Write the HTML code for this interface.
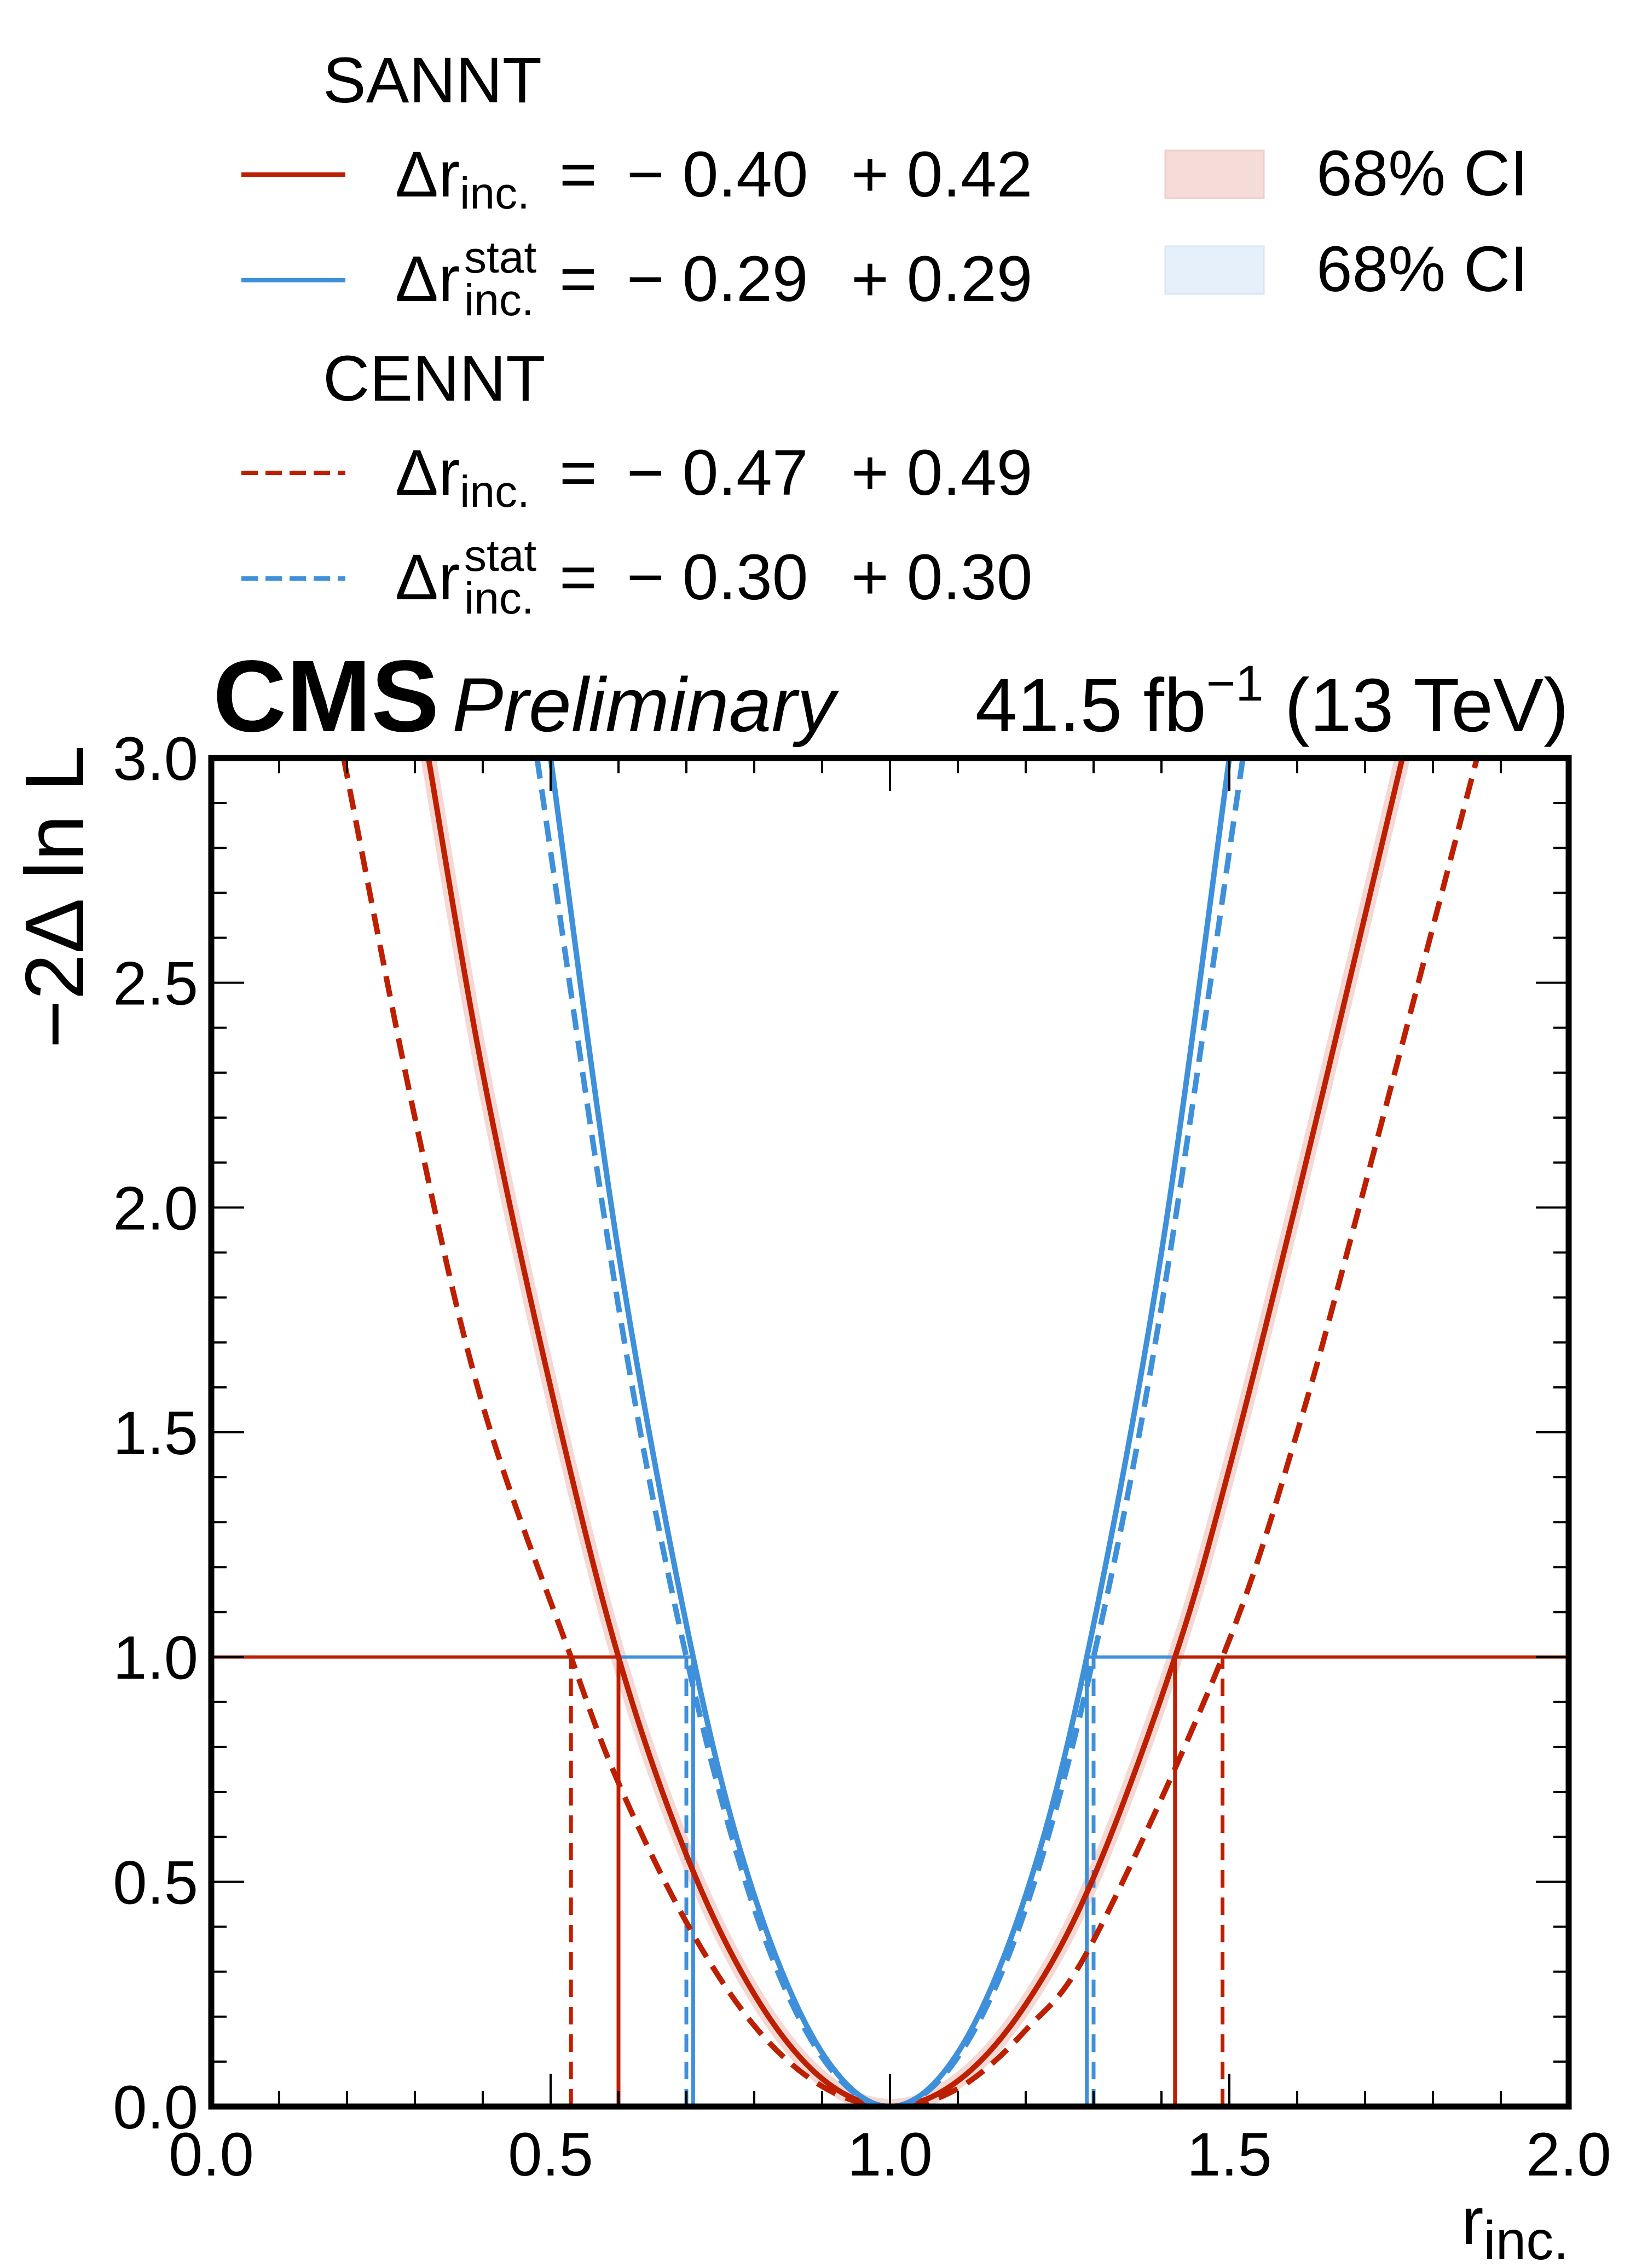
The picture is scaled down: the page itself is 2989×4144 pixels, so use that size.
<!DOCTYPE html>
<html><head><meta charset="utf-8">
<style>
html,body{margin:0;padding:0;background:#fff;}
svg{display:block;font-family:"Liberation Sans",Arial,sans-serif;}
</style></head>
<body>
<svg id="chart" width="2989" height="4144" viewBox="0 0 2989 4144" xmlns="http://www.w3.org/2000/svg">
<g id="legend" font-size="118" fill="#000">
  <text x="590" y="187">SANNT</text>
  <line x1="441" y1="319" x2="631" y2="319" stroke="#bd1f01" stroke-width="8"/>
  <text x="722" y="359">Δr<tspan font-size="82" dy="22">inc.</tspan><tspan x="1022" dy="-22">=</tspan><tspan x="1145">− 0.40</tspan><tspan x="1555">+ 0.42</tspan></text>
  <line x1="441" y1="512" x2="631" y2="512" stroke="#3f90da" stroke-width="8"/>
  <text x="722" y="550">Δr<tspan font-size="82" x="848" dy="-52">stat</tspan><tspan font-size="82" x="848" dy="78">inc.</tspan><tspan x="1022" dy="-26">=</tspan><tspan x="1145">− 0.29</tspan><tspan x="1555">+ 0.29</tspan></text>
  <text x="590" y="732">CENNT</text>
  <line x1="441" y1="864" x2="631" y2="864" stroke="#bd1f01" stroke-width="8" stroke-dasharray="30,14"/>
  <text x="722" y="904">Δr<tspan font-size="82" dy="22">inc.</tspan><tspan x="1022" dy="-22">=</tspan><tspan x="1145">− 0.47</tspan><tspan x="1555">+ 0.49</tspan></text>
  <line x1="441" y1="1057" x2="631" y2="1057" stroke="#3f90da" stroke-width="8" stroke-dasharray="30,14"/>
  <text x="722" y="1095">Δr<tspan font-size="82" x="848" dy="-52">stat</tspan><tspan font-size="82" x="848" dy="78">inc.</tspan><tspan x="1022" dy="-26">=</tspan><tspan x="1145">− 0.30</tspan><tspan x="1555">+ 0.30</tspan></text>
  <rect x="2129" y="275" width="180" height="87" fill="#f5dcd8" stroke="#f0ccc6" stroke-width="3"/>
  <text x="2405" y="357">68% CI</text>
  <rect x="2129" y="450" width="180" height="87" fill="#e6f0fa" stroke="#d6e6f6" stroke-width="3"/>
  <text x="2405" y="532">68% CI</text>
</g>
<text x="389" y="1336" font-size="186" font-weight="bold">CMS</text>
<text x="826" y="1336" font-size="140" font-style="italic">Preliminary</text>
<text x="2866" y="1336" font-size="138" text-anchor="end">41.5 fb<tspan font-size="92" dy="-56">−1</tspan><tspan dy="56"> (13 TeV)</tspan></text>
<g id="plot"></g>
<text transform="translate(152,1362) rotate(-90)" font-size="152" text-anchor="end">−2Δ ln L</text>
<text x="2866" y="4100" font-size="122" text-anchor="end">r<tspan font-size="100" dy="28">inc.</tspan></text>
</svg>
<script>
// ---- data ----
const sanntTotalR = [0.32,0.40,0.50,0.60,0.70,0.80,0.90,1.00,1.10,1.20,1.30,1.42,1.50,1.60,1.70,1.755];
const sanntTotalY = [3.0,2.3,1.6,1.0,0.56,0.25,0.062,0.0,0.057,0.227,0.51,1.0,1.42,2.02,2.65,3.0];
const sanntStatR = [0.50,0.60,0.71,0.80,0.90,1.00,1.10,1.20,1.29,1.40,1.50];
const sanntStatY = [3.0,1.9,1.0,0.47,0.12,0.0,0.12,0.47,1.0,1.9,3.0];
const cenntTotalR = [0.195,0.30,0.40,0.53,0.60,0.70,0.80,0.90,1.00,1.10,1.20,1.30,1.49,1.60,1.70,1.865];
const cenntTotalY = [3.0,2.2,1.56,1.0,0.72,0.41,0.18,0.045,0.0,0.04,0.17,0.37,1.0,1.5,2.05,3.0];
const cenntStatR = [0.48,0.60,0.70,0.80,0.90,1.00,1.10,1.20,1.30,1.40,1.52];
const cenntStatY = [3.0,1.78,1.0,0.44,0.11,0.0,0.11,0.44,1.0,1.78,3.0];
const intervalsR = [0.60,1.42,0.53,1.49,0.71,1.29,0.70,1.30];
const xTickLabels = ["0.0","0.5","1.0","1.5","2.0"];
const yTickLabels = ["0.0","0.5","1.0","1.5","2.0","2.5","3.0"];

const X0=386,X1=2866,Y0=3849,Y1=1385;
const sx=v=>X0+(X1-X0)*v/2.0;
const sy=v=>Y0-(Y0-Y1)*v/3.0;
const NS="http://www.w3.org/2000/svg";
const plot=document.getElementById('plot');
function mk(tag,attrs,parent){const e=document.createElementNS(NS,tag);for(const k in attrs)e.setAttribute(k,attrs[k]);(parent||plot).appendChild(e);return e;}

const clip=mk('clipPath',{id:'pc'});
mk('rect',{x:X0,y:Y1,width:X1-X0,height:Y0-Y1},clip);

function smoothPath(rs,ys){
  const p=rs.map((r,i)=>[sx(r),sy(ys[i])]);
  let d='M'+p[0][0]+','+p[0][1];
  for(let i=0;i<p.length-1;i++){
    const a=p[Math.max(i-1,0)],b=p[i],c=p[i+1],e=p[Math.min(i+2,p.length-1)];
    const c1=[b[0]+(c[0]-a[0])/6,b[1]+(c[1]-a[1])/6];
    const c2=[c[0]-(e[0]-b[0])/6,c[1]-(e[1]-b[1])/6];
    d+=' C'+c1+' '+c2+' '+c;
  }
  return d;
}
const g=mk('g',{'clip-path':'url(#pc)'});



const band=mk('path',{d:smoothPath(sanntTotalR,sanntTotalY),fill:'none',stroke:'#f5d8d3',"stroke-width":28},g);



const hl1=mk('line',{x1:sx(0),x2:sx(intervalsR[0]),y1:sy(1),y2:sy(1),stroke:'#bd1f01','stroke-width':6},g);


const hl2=mk('line',{x1:sx(intervalsR[1]),x2:sx(2),y1:sy(1),y2:sy(1),stroke:'#bd1f01','stroke-width':6},g);


const hb1=mk('line',{x1:sx(intervalsR[0]),x2:sx(intervalsR[4]),y1:sy(1),y2:sy(1),stroke:'#3f90da','stroke-width':6},g);


const hb2=mk('line',{x1:sx(intervalsR[5]),x2:sx(intervalsR[1]),y1:sy(1),y2:sy(1),stroke:'#3f90da','stroke-width':6},g);



const vStyles=[['#bd1f01',null],['#bd1f01',null],['#bd1f01','32,18'],['#bd1f01','32,18'],['#3f90da',null],['#3f90da',null],['#3f90da','32,18'],['#3f90da','32,18']];
intervalsR.forEach((r,i)=>{
  const a={x1:sx(r),x2:sx(r),y1:sy(0),y2:sy(1),stroke:vStyles[i][0],'stroke-width':7};
  if(vStyles[i][1])a['stroke-dasharray']=vStyles[i][1];
  const l=mk('line',a,g);
  
  
});

const c1=mk('path',{d:smoothPath(cenntTotalR,cenntTotalY),fill:'none',stroke:'#bd1f01','stroke-width':10,'stroke-dasharray':'38,20'},g);


const c2=mk('path',{d:smoothPath(sanntTotalR,sanntTotalY),fill:'none',stroke:'#bd1f01','stroke-width':10},g);


const c3=mk('path',{d:smoothPath(sanntStatR,sanntStatY),fill:'none',stroke:'#3f90da','stroke-width':10},g);


const c4=mk('path',{d:smoothPath(cenntStatR,cenntStatY),fill:'none',stroke:'#3f90da','stroke-width':10,'stroke-dasharray':'38,20'},g);



for(let i=0;i<=20;i++){
  const v=i*0.1, L=(i%5===0)?60:28, x=sx(v);
  const t1=mk('line',{x1:x,x2:x,y1:Y0,y2:Y0-L,stroke:'#000','stroke-width':4});
  
  
  const t2=mk('line',{x1:x,x2:x,y1:Y1,y2:Y1+L,stroke:'#000','stroke-width':4});
  
  
}
for(let i=0;i<=30;i++){
  const v=i*0.1, L=(i%5===0)?60:28, y=sy(v);
  const t1=mk('line',{x1:X0,x2:X0+L,y1:y,y2:y,stroke:'#000','stroke-width':4});
  
  
  const t2=mk('line',{x1:X1,x2:X1-L,y1:y,y2:y,stroke:'#000','stroke-width':4});
  
  
}
xTickLabels.forEach((s,i)=>{
  const t=mk('text',{x:sx(parseFloat(s)),y:3975,'font-size':112,'text-anchor':'middle'});
  t.textContent=s;
  
  
});
yTickLabels.forEach((s,i)=>{
  const t=mk('text',{x:362,y:sy(parseFloat(s))+40,'font-size':112,'text-anchor':'end'});
  t.textContent=s;
  
  
});
const frame=mk('rect',{x:X0,y:Y1,width:X1-X0,height:Y0-Y1,fill:'none',stroke:'#000','stroke-width':11});


</script>
</body></html>
